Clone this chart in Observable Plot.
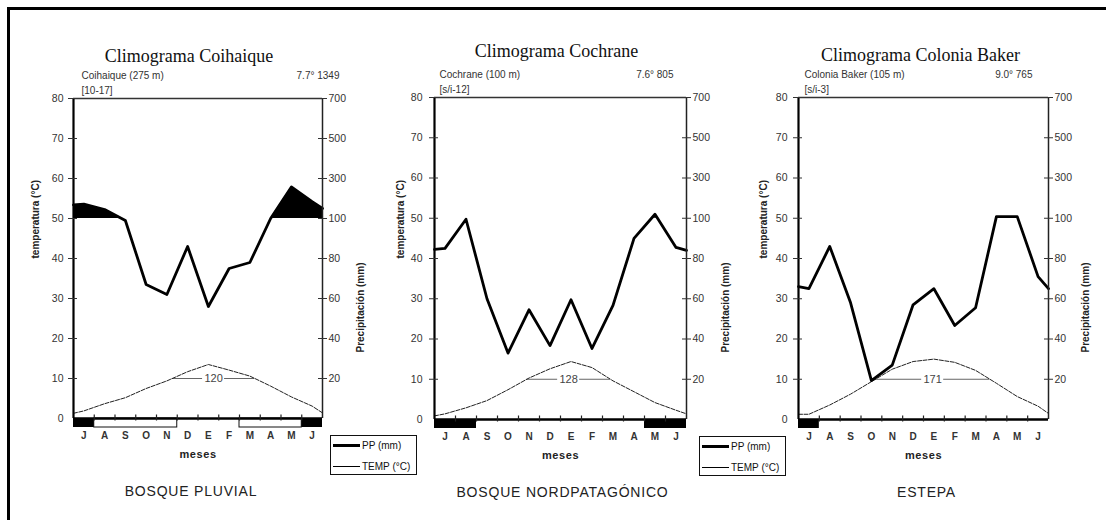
<!DOCTYPE html>
<html>
<head>
<meta charset="utf-8">
<script src="https://cdn.jsdelivr.net/npm/d3@7"></script>
<script src="https://cdn.jsdelivr.net/npm/@observablehq/plot@0.6"></script>
<style>
  html, body { margin: 0; padding: 0; background: #fff; }
  #root { position: relative; width: 1106px; height: 520px; overflow: hidden; background: #fff; font-family: "Liberation Sans", Arial, sans-serif; }
  .panel { position: absolute; top: 0; }
  .frameTop { position: absolute; left: 7px; top: 7px; width: 1099px; height: 3px; background: #000; }
  .frameLeft { position: absolute; left: 7px; top: 7px; width: 3px; height: 513px; background: #000; }
  .legend { position: absolute; border: 1.5px solid #111; box-sizing: border-box; background: #fff; font-size: 10px; color: #111; }
  .legend .row { position: absolute; left: 2px; display: flex; align-items: center; white-space: nowrap; }
  .legend .sw { display: inline-block; width: 27px; margin-right: 2px; background: #000; }
</style>
</head>
<body>
<div id="root">
  <div class="frameTop"></div>
  <div class="frameLeft"></div>
</div>
<script>
// ---------- shared data ----------
const months = ["J", "A", "S", "O", "N", "D", "E", "F", "M", "A", "M", "J"];
const tempTicks = [0, 10, 20, 30, 40, 50, 60, 70, 80];
const ppTickPositions = [10, 20, 30, 40, 50, 60, 70, 80];
const ppTickLabels = ["20", "40", "60", "80", "100", "300", "500", "700"];
const legendLabels = ["PP (mm)", "TEMP (°C)"];

// ---------- Coihaique ----------
const coiTitle = "Climograma Coihaique";
const coiStation = "Coihaique (275 m)";
const coiPeriod = "[10-17]";
const coiSummary = "7.7° 1349";
const coiBiome = "BOSQUE PLUVIAL";
const coiDays = "120";
const coiPP = [172, 145, 99, 67, 62, 86, 56, 75, 78, 100, 258, 184];   // mm, Jul..Jun
const coiPPEdges = [168, 150];
const coiTemp = [1.9, 3.7, 5.2, 7.5, 9.4, 11.7, 13.5, 12.1, 10.6, 8.1, 5.4, 3.1];
const coiTempEdges = [1.3, 1.4];
const coiFrostSure = [[0, 1], [11, 12]];
const coiFrostProbable = [[1, 5], [8, 11]];

// ---------- Cochrane ----------
const cocTitle = "Climograma Cochrane";
const cocStation = "Cochrane (100 m)";
const cocPeriod = "[s/i-12]";
const cocSummary = "7.6° 805";
const cocBiome = "BOSQUE NORDPATAGÓNICO";
const cocDays = "128";
const cocPP = [85, 99.5, 60, 33, 54.5, 36.7, 59.5, 35.3, 56.7, 90, 120, 85.5];
const cocPPEdges = [84.5, 84];
const cocTemp = [1.4, 2.9, 4.7, 7.4, 10.3, 12.6, 14.4, 12.9, 9.6, 6.9, 4.2, 2.3];
const cocTempEdges = [0.9, 1.4];
const cocFrostSure = [[0, 2], [10, 12]];
const cocFrostProbable = [];

// ---------- Colonia Baker ----------
const colTitle = "Climograma Colonia Baker";
const colStation = "Colonia Baker (105 m)";
const colPeriod = "[s/i-3]";
const colSummary = "9.0° 765";
const colBiome = "ESTEPA";
const colDays = "171";
const colPP = [65, 86, 58, 19.3, 27, 57, 65, 46.7, 55.5, 108, 108, 71];
const colPPEdges = [66, 65];
const colTemp = [1.3, 3.6, 6.3, 9.4, 12.5, 14.4, 15, 14.2, 12.2, 9, 5.7, 3.3];
const colTempEdges = [1.3, 1.5];
const colFrostSure = [[0, 1]];
const colFrostProbable = [];

// ---------- drawing ----------
const ppToY = v => v <= 100 ? v / 2 : 50 + (v - 100) / 20;

function panel(cfg) {
  const H = 520;
  const monthPx = (cfg.W - cfg.ml - cfg.mr) / 12;
  const unitPx = (H - cfg.mt - cfg.mb) / 80;
  const px = p => p / monthPx;
  const py = p => p / unitPx;
  const xs = [0, ...d3.range(12).map(i => i + 0.5), 12];
  const ppS = [cfg.ppEdges[0], ...cfg.pp, cfg.ppEdges[1]].map((v, i) => ({x: xs[i], y: ppToY(v)}));
  const tS = [cfg.tempEdges[0], ...cfg.temp, cfg.tempEdges[1]].map((v, i) => ({x: xs[i], y: v}));

  // humid (>100 mm) fill, with exact crossings of the 100 mm level
  const fillPts = [];
  ppS.forEach((p, i) => {
    if (i > 0) {
      const q = ppS[i - 1];
      if ((q.y - 50) * (p.y - 50) < 0) {
        const t = (50 - q.y) / (p.y - q.y);
        fillPts.push({x: q.x + t * (p.x - q.x), y: 50});
      }
    }
    fillPts.push({x: p.x, y: Math.max(p.y, 50)});
  });

  // 10 °C crossings of the temperature curve
  const cross = [];
  tS.forEach((p, i) => {
    if (i > 0) {
      const q = tS[i - 1];
      if ((q.y - 10) * (p.y - 10) < 0) cross.push(q.x + (10 - q.y) / (p.y - q.y) * (p.x - q.x));
    }
  });
  const c1 = cross[0], c2 = cross[cross.length - 1], cm = (c1 + c2) / 2, gap = px(11);

  const barH = py(9);
  const plot = Plot.plot({
    width: cfg.W,
    height: H,
    marginLeft: cfg.ml, marginRight: cfg.mr, marginTop: cfg.mt, marginBottom: cfg.mb,
    x: {domain: [0, 12], axis: null},
    y: {domain: [0, 80], axis: null},
    style: {background: "transparent", overflow: "visible", fontFamily: "Liberation Sans, Arial, sans-serif", fontSize: "10px", color: "#222"},
    marks: [
      Plot.areaY(fillPts, {x: "x", y1: 50, y2: "y", fill: "#000"}),
      Plot.ruleY([10], {x1: c1, x2: cm - gap, stroke: "#666", strokeWidth: 1}),
      Plot.ruleY([10], {x1: cm + gap, x2: c2, stroke: "#666", strokeWidth: 1}),
      Plot.text([cfg.days], {x: cm, y: 10, text: d => d, fontSize: 11, fill: "#444"}),
      Plot.line(tS, {x: "x", y: "y", stroke: "#222", strokeWidth: 1, strokeDasharray: "4,1.5"}),
      Plot.line(ppS, {x: "x", y: "y", stroke: "#000", strokeWidth: 2.8, strokeLinejoin: "round"}),
      Plot.ruleY([80], {x1: 0, x2: 12, stroke: "#333", strokeWidth: 1.3}),
      Plot.ruleX([12], {y1: 0, y2: 80, stroke: "#222", strokeWidth: 1.5}),
      Plot.ruleX([0], {y1: 0, y2: 80, stroke: "#000", strokeWidth: 2.2}),
      Plot.rect(cfg.probable, {x1: d => d[0], x2: d => d[1], y1: 0, y2: -barH, fill: "#fff", stroke: "#111", strokeWidth: 1}),
      Plot.rect(cfg.sure, {x1: d => d[0], x2: d => d[1], y1: 0, y2: -barH, fill: "#000"}),
      Plot.ruleY([0], {x1: 0, x2: 12, stroke: "#000", strokeWidth: 2.5}),
      Plot.ruleX(d3.range(1, 12), {x: d => d, y1: -py(2.5), y2: py(3.5), stroke: "#222", strokeWidth: 1.2}),
      Plot.ruleY(tempTicks.slice(1), {y: d => d, x1: -px(5), x2: px(4), stroke: "#333", strokeWidth: 1}),
      Plot.ruleY(ppTickPositions, {y: d => d, x1: 12 - px(4), x2: 12 + px(5), stroke: "#333", strokeWidth: 1}),
      Plot.text(tempTicks, {x: 0, y: d => d, text: d => String(d), textAnchor: "end", dx: -cfg.leftPad, fontSize: 10.5, fill: "#333"}),
      Plot.text(ppTickPositions, {x: 12, y: d => d, text: (d, i) => ppTickLabels[i], textAnchor: "start", dx: 6, fontSize: 10.5, fill: "#333"}),
      Plot.text(months, {x: (d, i) => i + 0.5, y: -py(17), text: d => d, fontSize: 10, fontWeight: "bold", fill: "#333"}),
      Plot.text(["meses"], {frameAnchor: "bottom", dy: 39, text: d => d, fontSize: 11, fontWeight: "bold", fill: "#222"}),
      Plot.text([cfg.biome], {frameAnchor: "bottom", dx: cfg.biomeDx, dy: 77, text: d => d, fontSize: 14, fill: "#222"}),
      Plot.text(["temperatura (°C)"], {frameAnchor: "left", dx: cfg.yLeftDx, rotate: -90, text: d => d, fontSize: 10, fontWeight: "bold", fill: "#222"}),
      Plot.text(["Precipitación (mm)"], {frameAnchor: "right", dx: cfg.yRightDx, dy: 4, rotate: -90, text: d => d, fontSize: 10, fontWeight: "bold", fill: "#222"}),
      Plot.text([cfg.title], {frameAnchor: "top", dx: cfg.titleDx, dy: cfg.titleY - cfg.mt, text: d => d, fontSize: 18, fontFamily: "Liberation Serif, serif", fill: "#111"}),
      Plot.text([cfg.station], {frameAnchor: "top-left", textAnchor: "start", dx: cfg.subDx, dy: cfg.subY - cfg.mt, text: d => d, fontSize: 10, fill: "#333"}),
      Plot.text([cfg.period], {frameAnchor: "top-left", textAnchor: "start", dx: cfg.subDx, dy: cfg.subY + 15 - cfg.mt, text: d => d, fontSize: 10, fill: "#333"}),
      Plot.text([cfg.summary], {frameAnchor: "top-right", textAnchor: "end", dx: cfg.sumDx, dy: cfg.subY - cfg.mt, text: d => d, fontSize: 10, fill: "#333"})
    ]
  });
  d3.select(plot).selectAll("text").filter(function () { return this.textContent === cfg.biome; }).attr("letter-spacing", "0.8");
  d3.select(plot).selectAll("text").filter(function () { return this.textContent === "meses"; }).attr("letter-spacing", "0.6");
  const wrap = document.createElement("div");
  wrap.className = "panel";
  wrap.style.left = cfg.L + "px";
  wrap.appendChild(plot);
  document.getElementById("root").appendChild(wrap);
}

panel({L: 0, W: 370, ml: 73, mr: 48, mt: 98, mb: 102, leftPad: 10,
  pp: coiPP, ppEdges: coiPPEdges, temp: coiTemp, tempEdges: coiTempEdges,
  sure: coiFrostSure, probable: coiFrostProbable, days: coiDays,
  title: coiTitle, station: coiStation, period: coiPeriod, summary: coiSummary, biome: coiBiome,
  titleDx: -9, titleY: 48.5, subY: 71.5, subDx: 8, sumDx: 17, biomeDx: -7, yLeftDx: -38, yRightDx: 38});

panel({L: 370, W: 365, ml: 64, mr: 49, mt: 97, mb: 101, leftPad: 12,
  pp: cocPP, ppEdges: cocPPEdges, temp: cocTemp, tempEdges: cocTempEdges,
  sure: cocFrostSure, probable: cocFrostProbable, days: cocDays,
  title: cocTitle, station: cocStation, period: cocPeriod, summary: cocSummary, biome: cocBiome,
  titleDx: -4, titleY: 44, subY: 70, subDx: 5, sumDx: -13, biomeDx: 2, yLeftDx: -34, yRightDx: 39});

panel({L: 735, W: 371, ml: 63, mr: 58, mt: 97, mb: 101, leftPad: 11,
  pp: colPP, ppEdges: colPPEdges, temp: colTemp, tempEdges: colTempEdges,
  sure: colFrostSure, probable: colFrostProbable, days: colDays,
  title: colTitle, station: colStation, period: colPeriod, summary: colSummary, biome: colBiome,
  titleDx: -3, titleY: 47.5, subY: 70, subDx: 6, sumDx: -16, biomeDx: 3, yLeftDx: -35, yRightDx: 37});

function legend(left, top) {
  const box = document.createElement("div");
  box.className = "legend";
  Object.assign(box.style, {left: left + "px", top: top + "px", width: "87px", height: "40px"});
  legendLabels.forEach((lab, i) => {
    const row = document.createElement("div");
    row.className = "row";
    row.style.top = (i === 0 ? 2 : 23) + "px";
    row.style.height = "14px";
    const sw = document.createElement("span");
    sw.className = "sw";
    sw.style.height = (i === 0 ? 3 : 1) + "px";
    const t = document.createElement("span");
    t.textContent = lab;
    row.appendChild(sw); row.appendChild(t);
    box.appendChild(row);
  });
  document.getElementById("root").appendChild(box);
}
legend(330, 435);
legend(699, 436);
</script>
</body>
</html>
